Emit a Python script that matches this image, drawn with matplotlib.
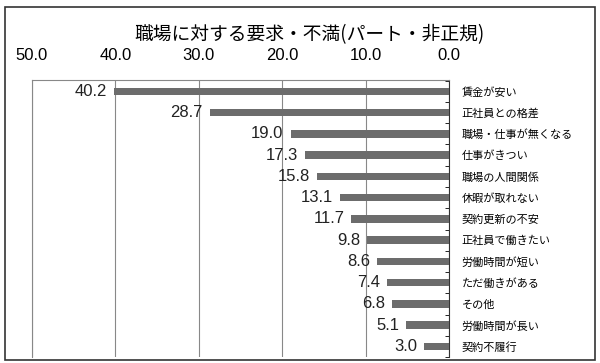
import matplotlib
matplotlib.use("Agg")
import matplotlib.pyplot as plt
from matplotlib.patches import Rectangle
import numpy as np

categories = ["賃金が安い", "正社員との格差", "職場・仕事が無くなる", "仕事がきつい",
              "職場の人間関係", "休暇が取れない", "契約更新の不安", "正社員で働きたい",
              "労働時間が短い", "ただ働きがある", "その他", "労働時間が長い", "契約不履行"]
values = [40.2, 28.7, 19.0, 17.3, 15.8, 13.1, 11.7, 9.8, 8.6, 7.4, 6.8, 5.1, 3.0]
ticks = [50, 40, 30, 20, 10, 0]

jp = ["Noto Sans CJK JP", "DejaVu Sans"]
num = ["Liberation Sans", "DejaVu Sans"]

fig = plt.figure(figsize=(6, 3.63), dpi=100)
ax = fig.add_axes([0.0533, 0.0165, 0.695, 0.764])

# outer frame
fig.patches.append(Rectangle((0.009, 0.008), 0.983, 0.972, transform=fig.transFigure,
                             fill=False, edgecolor="#333333", linewidth=1.2))

y = np.arange(len(categories))
ax.barh(y, values, height=0.36, color="#6c6c6c", zorder=3)
for yi, v in zip(y, values):
    ax.annotate(f"{v:.1f}", (v, yi), xytext=(-5, 0), textcoords="offset points",
                ha="right", va="center", fontsize=12, family=num, color="#222222")

ax.set_xlim(50, 0)
ax.set_ylim(len(categories) - 0.5, -0.55)
ax.set_xticks(ticks)
ax.set_xticklabels([f"{t:.1f}" for t in ticks], family=num, fontsize=12)
ax.xaxis.tick_top()
ax.tick_params(axis="x", length=0, pad=12)
ax.grid(axis="x", color="#888888", linewidth=0.8, zorder=0)

ax.yaxis.tick_right()
ax.set_yticks(y)
ax.set_yticklabels(categories, family=jp, fontsize=8)
ax.tick_params(axis="y", which="major", length=0, pad=9)
ax.set_yticks(np.arange(len(categories) + 1) - 0.5, minor=True)
ax.tick_params(axis="y", which="minor", direction="in", length=3, right=True, left=False)

for s in ["left", "top"]:
    ax.spines[s].set_color("#888888")
    ax.spines[s].set_linewidth(0.8)
ax.spines["bottom"].set_visible(False)
ax.spines["right"].set_color("#333333")

fig.text(0.515, 0.89, "職場に対する要求・不満(パート・非正規)", ha="center", va="baseline",
         fontsize=13.5, family=jp)

fig.savefig("out.png", dpi=100)
